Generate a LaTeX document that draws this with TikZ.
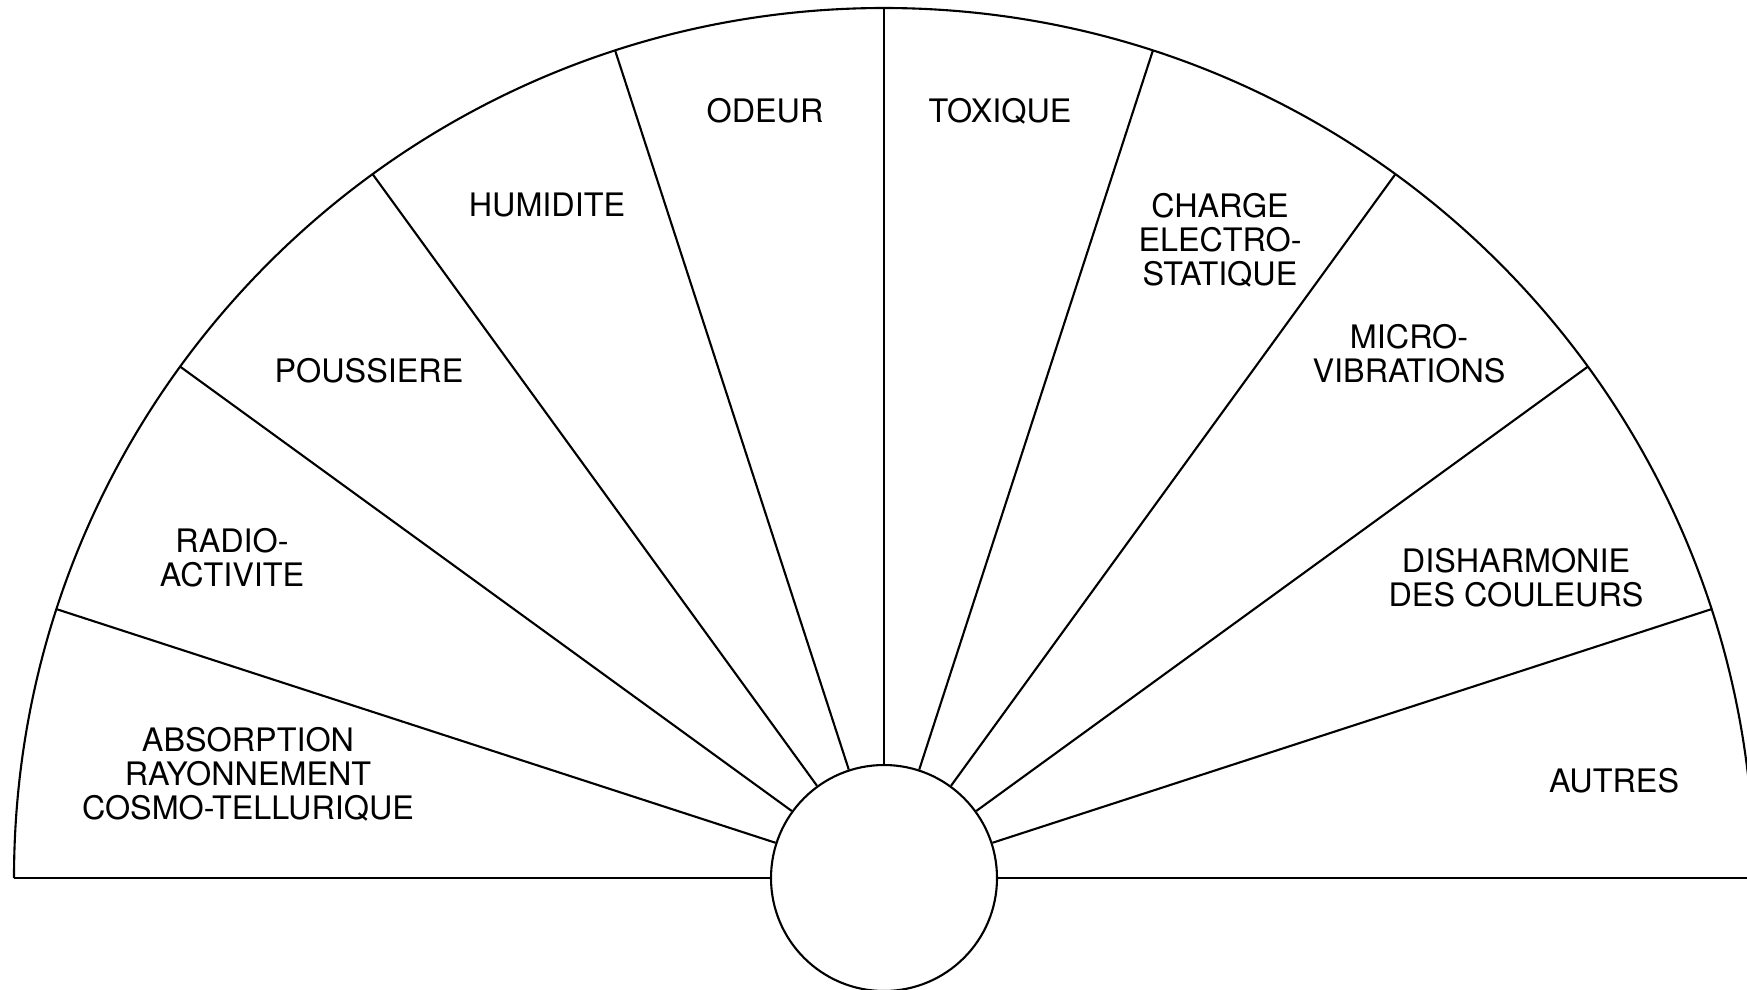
\documentclass[tikz,border=0pt]{standalone}
\usepackage{fontspec}
\setmainfont{TeX Gyre Heros}
\usepackage{tikz}
\usetikzlibrary{calc}

\begin{document}
\begin{tikzpicture}[
  line width=0.6pt,
  lab/.style={align=center, font=\fontsize{9.2}{9.7}\selectfont, inner sep=1pt},
  hubnode/.style={draw, circle, minimum size=2.26cm, inner sep=0pt}
]
\clip (0,0) rectangle (17.47,9.89);
\coordinate (ctr) at (8.84,1.11);
\node[hubnode] (hub) at (ctr) {};
\coordinate (rimL) at ($(ctr)+(180:8.7)$);
\coordinate (rimR) at ($(ctr)+(0:8.7)$);
% baseline and outer arc
\draw (rimL) -- (hub.west);
\draw (hub.east) -- (rimR);
\draw (rimR) arc[start angle=0, end angle=180, radius=8.7];
% spokes
\foreach \a in {18,36,...,162}
  \draw (hub.\a) -- ($(ctr)+(\a:8.7)$);
% labels
\node[lab] (absorp) at (2.48,2.15) {ABSORPTION\\RAYONNEMENT\\COSMO-TELLURIQUE};
\node[lab] (radio) at (2.32,4.31) {RADIO-\\ACTIVITE};
\node[lab] (pouss) at (3.69,6.18) {POUSSIERE};
\node[lab] (humid) at (5.47,7.84) {HUMIDITE};
\node[lab] (odeur) at (7.65,8.78) {ODEUR};
\node[lab] (toxiq) at (10.00,8.78) {TOXIQUE};
\node[lab] (charge) at (12.20,7.49) {CHARGE\\ELECTRO-\\STATIQUE};
\node[lab] (micro) at (14.09,6.35) {MICRO-\\VIBRATIONS};
\node[lab] (dishar) at (15.16,4.11) {DISHARMONIE\\DES COULEURS};
\node[lab] (autres) at (16.14,2.08) {AUTRES};
\end{tikzpicture}
\end{document}
